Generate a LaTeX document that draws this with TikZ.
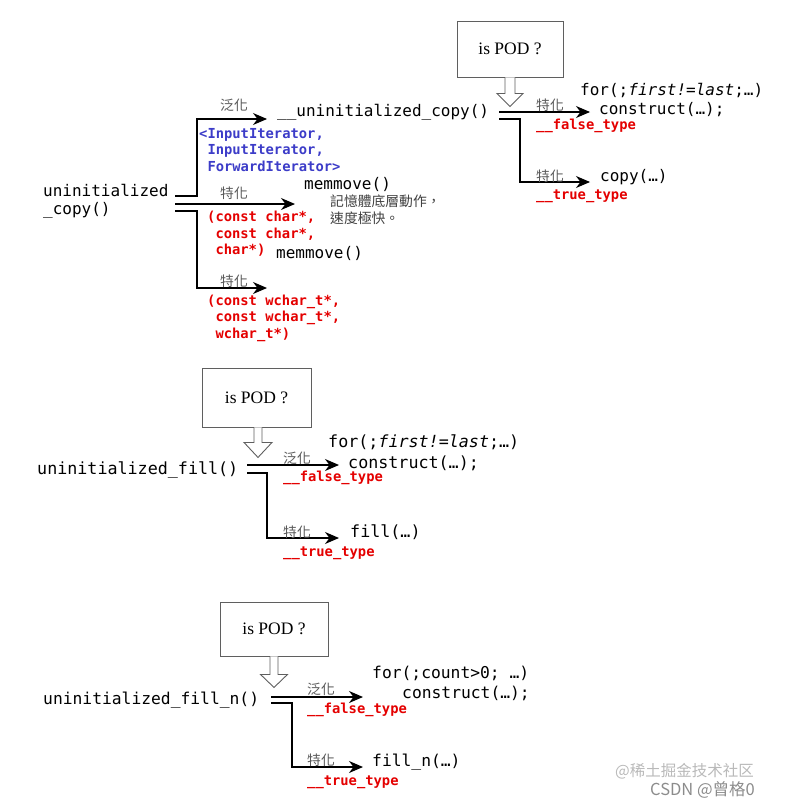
\documentclass[tikz,border=0pt]{standalone}
\usepackage{fontspec}
\setmainfont{Liberation Serif}
\setmonofont{DejaVu Sans Mono}
\newfontfamily\cjk{Noto Sans CJK TC}
\newfontfamily\cjksc{Noto Sans CJK SC}
\usetikzlibrary{arrows.meta}
\definecolor{codered}{RGB}{228,0,0}
\definecolor{codeblue}{RGB}{60,60,200}
\definecolor{lblgray}{RGB}{90,90,90}
\definecolor{boxgray}{RGB}{95,95,95}
\definecolor{wmgray}{RGB}{185,185,185}
\tikzset{
 codeA/.style={font=\ttfamily\fontsize{16}{18}\selectfont, anchor=west, inner sep=0pt},
 codeB/.style={font=\ttfamily\fontsize{16.7}{18}\selectfont, anchor=west, inner sep=0pt},
 codeC/.style={font=\ttfamily\fontsize{16.3}{18}\selectfont, anchor=west, inner sep=0pt},
 small/.style={font=\ttfamily\bfseries\fontsize{13.8}{16.5}\selectfont, anchor=west, inner sep=0pt, align=left},
 redtxt/.style={small, text=codered},
 bluetxt/.style={small, text=codeblue},
 lbl/.style={font=\cjk\fontsize{13.8}{15}\selectfont, text=lblgray, anchor=west, inner sep=0pt},
 note/.style={font=\cjk\fontsize{13.8}{17}\selectfont, text=black!75, anchor=west, inner sep=0pt, align=left},
 podbox/.style={draw=boxgray, line width=0.9pt, fill=white, font=\fontsize{17.5}{19}\selectfont, inner sep=0pt},
 hollow/.style={draw=boxgray, line width=0.9pt, fill=white},
 flow/.style={line width=1.3pt, -{Stealth[length=14pt,width=12pt,inset=4.5pt]}},
 wm/.style={anchor=west, inner sep=0pt},
}
\begin{document}
\begin{tikzpicture}[x=1pt,y=-1pt]
\useasboundingbox (0,0) rectangle (787,803);

% ---------------- Section 1 ----------------
\node[codeA] (uc)  at (43,190) {uninitialized};
\node[codeA] (uc2) at (43,210) {\_copy()};
\coordinate (s1a) at (175,196);
\coordinate (s1b) at (175,204);
\coordinate (s1c) at (175,211);
\coordinate (t1a) at (267,119);
\coordinate (t1b) at (295,204);
\coordinate (t1c) at (267,288);
\draw[flow] (s1a) -- ++(22,0) |- (t1a);
\draw[flow] (s1b) -- (t1b);
\draw[flow] (s1c) -- ++(22,0) |- (t1c);
\node[lbl] (g1) at (220,105) {泛化};
\node[lbl] (g2) at (220,193) {特化};
\node[lbl] (g3) at (220,281) {特化};

\node[codeA] (uuc) at (277,112) {\_\_uninitialized\_copy()};
\node[bluetxt] (bl) at (199,150) {<InputIterator,\\\hphantom{<}InputIterator,\\\hphantom{<}ForwardIterator>};
\node[codeA] (mm1) at (304,184) {memmove()};
\node[note] (nt) at (330,210) {記憶體底層動作，\\速度極快。};
\node[redtxt] (rc) at (207,234) {(const char*,\\\hphantom{(}const char*,\\\hphantom{(}char*)};
\node[codeA] (mm2) at (276,253) {memmove()};
\node[redtxt] (rw) at (207,318) {(const wchar\_t*,\\\hphantom{(}const wchar\_t*,\\\hphantom{(}wchar\_t*)};

\node[podbox, minimum width=106pt, minimum height=56pt] (pod1) at (510,49) {is POD ?};
\draw[hollow] (pod1.south) ++(-5,0) -- ++(0,16) -- ++(-8,0) -- ++(13,13) -- ++(13,-13) -- ++(-8,0) -- ++(0,-16);

\coordinate (r1a) at (499,112);
\coordinate (r1b) at (499,119);
\coordinate (t2a) at (590,112);
\coordinate (t2b) at (590,182);
\draw[flow] (r1a) -- (t2a);
\draw[flow] (r1b) -- ++(21,0) |- (t2b);
\node[codeA] (for1) at (580,90) {for(;\textit{first!=last};…)};
\node[codeA] (cs1) at (599,110) {construct(…);};
\node[lbl] (g4) at (536,105) {特化};
\node[redtxt] (f1) at (536,126) {\_\_false\_type};
\node[lbl] (g5) at (536,176) {特化};
\node[codeA] (cp1) at (600,177) {copy(…)};
\node[redtxt] (tr1) at (536,196) {\_\_true\_type};

% ---------------- Section 2 ----------------
\node[podbox, minimum width=109pt, minimum height=59pt] (pod2) at (256.5,397.5) {is POD ?};
\draw[hollow] (pod2.south) ++(-2.5,0) -- ++(0,15) -- ++(-10,0) -- ++(14,15) -- ++(14,-15) -- ++(-10,0) -- ++(0,-15);
\node[codeB] (uf) at (37,470) {uninitialized\_fill()};
\coordinate (s2a) at (247,465);
\coordinate (s2b) at (247,473);
\coordinate (t3a) at (339,465);
\coordinate (t3b) at (339,538);
\draw[flow] (s2a) -- (t3a);
\draw[flow] (s2b) -- ++(20,0) |- (t3b);
\node[lbl] (g6) at (283,458) {泛化};
\node[redtxt] (f2) at (283,478) {\_\_false\_type};
\node[lbl] (g7) at (283,532) {特化};
\node[redtxt] (tr2) at (283,553) {\_\_true\_type};
\node[codeB] (for2) at (328,442) {for(;\textit{first!=last};…)};
\node[codeB] (cs2) at (348,463) {construct(…);};
\node[codeB] (fl2) at (350,532) {fill(…)};

% ---------------- Section 3 ----------------
\node[podbox, minimum width=108pt, minimum height=54pt] (pod3) at (274,629) {is POD ?};
\draw[hollow] (pod3.south) ++(-4,0) -- ++(0,18) -- ++(-9.5,0) -- ++(13.5,13) -- ++(13.5,-13) -- ++(-9.5,0) -- ++(0,-18);
\node[codeC] (ufn) at (43,700) {uninitialized\_fill\_n()};
\coordinate (s3a) at (271,697);
\coordinate (s3b) at (271,703);
\coordinate (t4a) at (363,697);
\coordinate (t4b) at (363,767);
\draw[flow] (s3a) -- (t4a);
\draw[flow] (s3b) -- ++(21,0) |- (t4b);
\node[lbl] (g8) at (307,689) {泛化};
\node[redtxt] (f3) at (307,710) {\_\_false\_type};
\node[lbl] (g9) at (307,760) {特化};
\node[redtxt] (tr3) at (307,782) {\_\_true\_type};
\node[codeC] (for3) at (372,673) {for(;count>0; …)};
\node[codeC] (cs3) at (402,693) {construct(…);};
\node[codeC] (fl3) at (372,762) {fill\_n(…)};

% watermark
\node[wm, font=\cjksc\fontsize{15.5}{17}\selectfont, text=wmgray] (wm1) at (615,771) {@稀土掘金技术社区};
\node[wm, font=\cjksc\fontsize{16.5}{18}\selectfont, text=black!45] (wm2) at (650,790) {CSDN @曾格0};
\end{tikzpicture}
\end{document}
